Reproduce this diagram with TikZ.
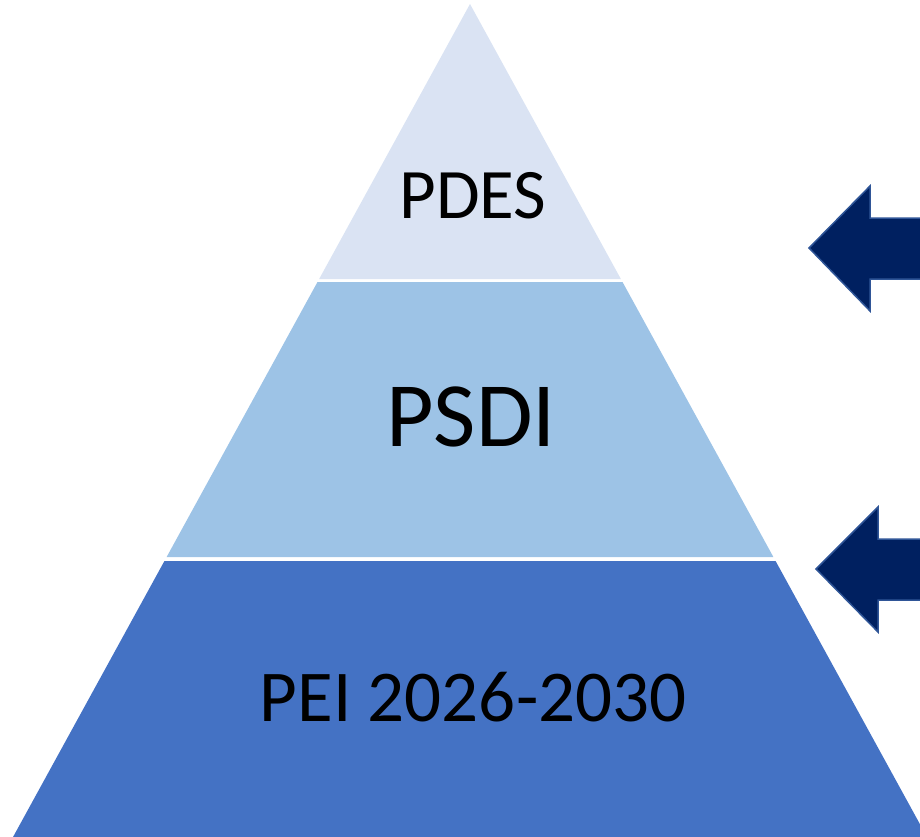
\documentclass[tikz,border=0pt]{standalone}
\usepackage{fontspec}
\setmainfont{Carlito}
\usepackage{tikz}
\usepackage{xcolor}
\usetikzlibrary{calc, positioning}
\definecolor{tiertop}{HTML}{DAE3F3}
\definecolor{tiermid}{HTML}{9DC3E6}
\definecolor{tierlow}{HTML}{4472C4}
\definecolor{arrowfill}{HTML}{002060}
\definecolor{arrowline}{HTML}{2F5597}
% half width of the pyramid at height y
\newcommand{\halfw}[1]{0.5486*(#1-4)}

\begin{document}
\begin{tikzpicture}[x=1pt, y=-1pt,
    tierlabel/.style={anchor=base, inner sep=0pt, text=black},
    pointer/.style={fill=arrowfill, draw=arrowline, line width=1.5pt, line join=miter}]
                        \useasboundingbox (0,0) rectangle (920,837);
                        \clip (0,0) rectangle (920,837);
                        \coordinate (apex) at (470,4);
                        \foreach \ya/\yb/\col in {4/279/tiertop, 282/557/tiermid, 561/837/tierlow} {
                            \fill[\col]
                            ({470-\halfw{\ya}}, \ya) -- ({470+\halfw{\ya}}, \ya) --
                            ({470+\halfw{\yb}}, \yb) -- ({470-\halfw{\yb}}, \yb) -- cycle;
                        }
                        \node[tierlabel, font=\fontsize{71}{71}\selectfont] (pdes) at (473,218) {PDES};
                        \node[tierlabel, font=\fontsize{92}{92}\selectfont] (psdi) at (471,446) {PSDI};
                        \node[tierlabel, font=\fontsize{73}{73}\selectfont] (pei) at (473,721) {PEI 2026-2030};
                        \foreach \tx/\ty/\hx in {809/248/870, 816/569/878} {
                            \draw[pointer]
                            (\tx,\ty) -- (\hx,\ty-62) -- (\hx,\ty-30) -- (930,\ty-30) --
                            (930,\ty+31) -- (\hx,\ty+31) -- (\hx,\ty+63) -- cycle;
                        }
                    \end{tikzpicture}
\end{document}
